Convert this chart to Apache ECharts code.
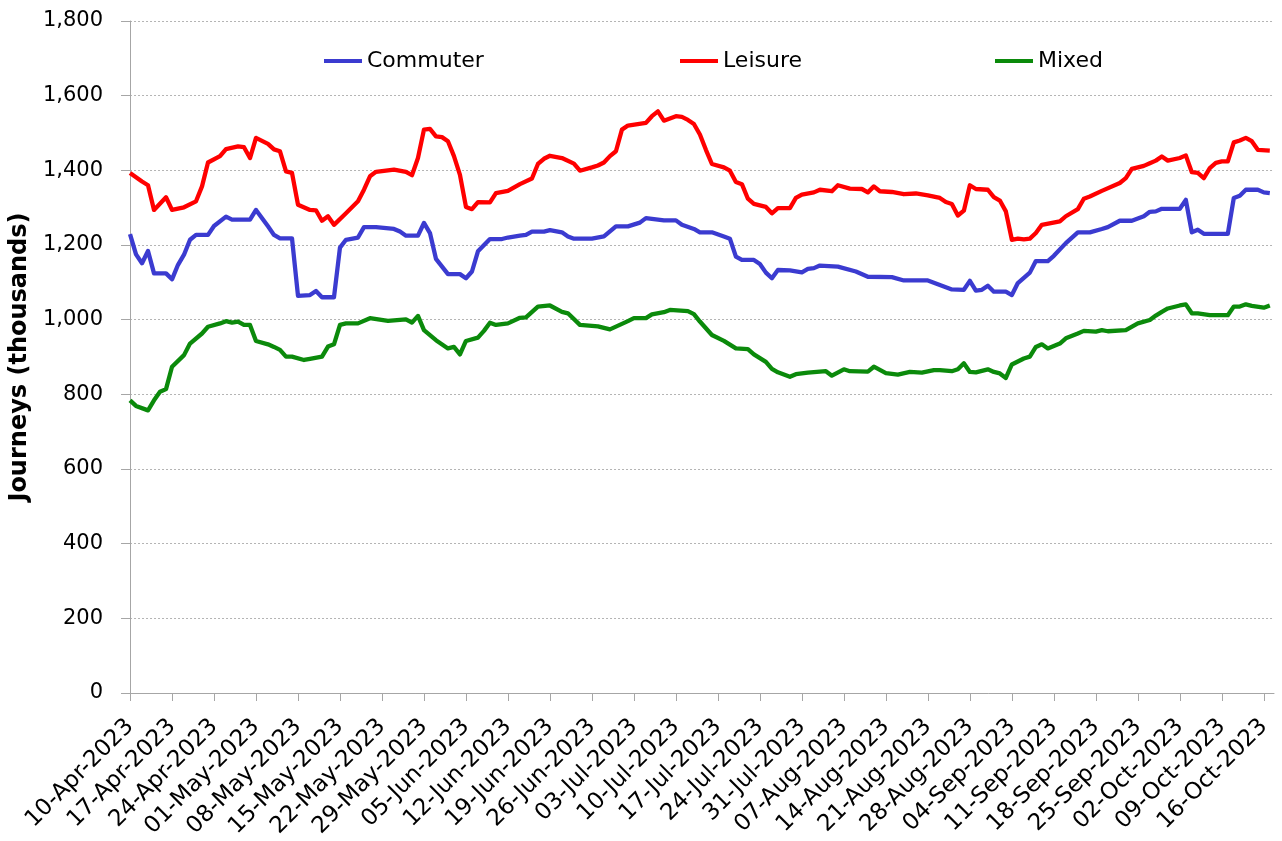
<!DOCTYPE html>
<html>
<head>
<meta charset="utf-8">
<script src="https://cdn.jsdelivr.net/npm/echarts@6/dist/echarts.min.js"></script>
<style>
  html, body { margin: 0; padding: 0; background: #fff; }
  #chart_box { width: 1282px; height: 841px; }
</style>
</head>
<body>
<div id="chart_box"></div>
<script>
// 日期刻度（每 7 天一个）
var tickLabels = ['10-Apr-2023','17-Apr-2023','24-Apr-2023','01-May-2023','08-May-2023','15-May-2023','22-May-2023',
  '29-May-2023','05-Jun-2023','12-Jun-2023','19-Jun-2023','26-Jun-2023','03-Jul-2023','10-Jul-2023','17-Jul-2023',
  '24-Jul-2023','31-Jul-2023','07-Aug-2023','14-Aug-2023','21-Aug-2023','28-Aug-2023','04-Sep-2023','11-Sep-2023',
  '18-Sep-2023','25-Sep-2023','02-Oct-2023','09-Oct-2023','16-Oct-2023'];

// [day since 10-Apr, journeys (thousands)]
var commuter = [[0,1229],[1,1175],[2,1151],[3,1184],[4,1124],[6,1124],[7,1108],[8,1147],[9,1174],[10,1214],
  [11,1227],[13,1227],[14,1251],[16,1276],[17,1268],[20,1268],[21,1294],[23,1250],[24,1227],[25,1218],[27,1218],
  [28,1064],[30,1066],[31,1077],[32,1060],[34,1060],[35,1193],[36,1214],[38,1220],[39,1248],[41,1248],[44,1243],
  [45,1236],[46,1225],[48,1225],[49,1259],[50,1232],[51,1163],[53,1122],[55,1122],[56,1111],[57,1129],[58,1183],
  [60,1216],[62,1216],[63,1220],[65,1225],[66,1227],[67,1236],[69,1236],[70,1240],[72,1234],[73,1223],[74,1217],
  [77,1217],[79,1223],[81,1250],[83,1250],[85,1260],[86,1272],[88,1268],[89,1266],[91,1266],[92,1254],[94,1243],
  [95,1234],[97,1234],[99,1223],[100,1217],[101,1169],[102,1160],[104,1160],[105,1149],[106,1126],[107,1111],
  [108,1133],[110,1132],[112,1127],[113,1136],[114,1138],[115,1145],[118,1142],[121,1129],[123,1115],[127,1114],
  [129,1105],[133,1105],[135,1093],[137,1081],[139,1080],[140,1104],[141,1078],[142,1080],[143,1091],[144,1075],
  [146,1075],[147,1066],[148,1098],[150,1126],[151,1157],[153,1157],[154,1171],[156,1205],[158,1234],[160,1234],
  [162,1243],[163,1248],[165,1265],[167,1265],[169,1277],[170,1289],[171,1290],[172,1297],[175,1297],[176,1321],
  [177,1234],[178,1241],[179,1230],[183,1230],[184,1326],[185,1332],[186,1348],[188,1348],[189,1341],[190,1339]];

var leisure = [[0,1393],[2,1370],[3,1360],[4,1294],[6,1328],[7,1294],[9,1301],[11,1317],[12,1357],[13,1421],
  [15,1438],[16,1457],[18,1464],[19,1462],[20,1433],[21,1487],[23,1471],[24,1456],[25,1451],[26,1397],[27,1393],
  [28,1308],[30,1294],[31,1293],[32,1265],[33,1277],[34,1254],[36,1285],[37,1301],[38,1317],[39,1348],[40,1384],
  [41,1396],[44,1402],[46,1396],[47,1387],[48,1433],[49,1509],[50,1511],[51,1491],[52,1489],[53,1478],[54,1438],
  [55,1388],[56,1302],[57,1296],[58,1315],[60,1314],[61,1339],[63,1345],[65,1363],[67,1378],[68,1417],[69,1431],
  [70,1439],[72,1433],[74,1418],[75,1399],[77,1408],[78,1413],[79,1421],[80,1438],[81,1451],[82,1509],[83,1520],
  [86,1527],[87,1545],[88,1558],[89,1533],[91,1545],[92,1543],[93,1535],[94,1524],[95,1496],[96,1455],[97,1417],
  [99,1408],[100,1399],[101,1369],[102,1363],[103,1324],[104,1310],[106,1302],[107,1285],[108,1299],[110,1299],
  [111,1326],[112,1335],[114,1341],[115,1348],[117,1344],[118,1360],[120,1351],[122,1350],[123,1341],[124,1357],
  [125,1344],[127,1342],[129,1336],[131,1338],[133,1333],[135,1326],[136,1315],[137,1310],[138,1279],[139,1292],
  [140,1360],[141,1350],[143,1348],[144,1328],[145,1319],[146,1290],[147,1214],[148,1217],[149,1215],[150,1217],
  [151,1232],[152,1254],[155,1263],[156,1277],[158,1296],[159,1324],[160,1330],[162,1345],[165,1366],[166,1379],
  [167,1404],[169,1412],[170,1419],[171,1426],[172,1437],[173,1426],[175,1433],[176,1440],[177,1395],[178,1393],
  [179,1379],[180,1406],[181,1420],[182,1424],[183,1424],[184,1475],[185,1480],[186,1487],[187,1478],[188,1455],
  [190,1453]];

var mixed = [[0,784],[1,769],[3,757],[4,784],[5,807],[6,814],[7,874],[9,905],[10,936],[12,963],[13,981],[15,990],
  [16,996],[17,992],[18,995],[19,986],[20,986],[21,943],[23,934],[24,927],[25,919],[26,901],[27,901],[29,892],
  [30,895],[32,901],[33,928],[34,934],[35,986],[36,990],[38,990],[40,1004],[43,997],[46,1001],[47,992],[48,1010],
  [49,972],[51,945],[53,923],[54,927],[55,907],[56,943],[58,952],[59,970],[60,992],[61,986],[63,990],[65,1005],
  [66,1006],[68,1035],[70,1038],[72,1021],[73,1017],[75,986],[78,982],[80,974],[83,996],[84,1004],[86,1004],
  [87,1014],[89,1020],[90,1026],[93,1023],[94,1015],[95,995],[97,959],[99,943],[101,923],[103,921],[104,907],
  [106,887],[107,868],[108,859],[110,847],[111,854],[113,858],[116,862],[117,850],[119,867],[120,862],[123,861],
  [124,874],[126,857],[128,853],[130,860],[132,858],[134,865],[135,865],[137,862],[138,867],[139,883],[140,860],
  [141,859],[143,867],[144,860],[145,856],[146,844],[147,880],[149,896],[150,901],[151,927],[152,934],[153,923],
  [155,936],[156,950],[158,963],[159,970],[161,968],[162,972],[163,969],[166,972],[168,990],[170,999],[171,1011],
  [172,1021],[173,1030],[175,1038],[176,1041],[177,1017],[178,1017],[180,1012],[183,1012],[184,1035],[185,1035],
  [186,1041],[187,1037],[189,1032],[190,1038]];

var tickDays = tickLabels.map(function (t, i) { return i * 7; });

var myChart1 = echarts.init(document.getElementById('chart_box'));
var font = 'DejaVu Sans';

function legendFor(name, left) {
    return {
        data: [name],
        left: left,
        top: 50,
        padding: 0,
        icon: 'rect',
        itemWidth: 38,
        itemHeight: 4,
        textStyle: { fontFamily: font, fontSize: 22, color: '#000' }
    };
}

var option = {
    animation: false,
    backgroundColor: '#fff',
    legend: [legendFor('Commuter', 324), legendFor('Leisure', 680), legendFor('Mixed', 995)],
    grid: { left: 130, right: 8, top: 21, bottom: 148, containLabel: false },
    xAxis: {
        type: 'value',
        min: 0,
        max: 190.7,
        axisLine: { lineStyle: { color: '#a6a6a6', width: 1 } },
        axisTick: { show: true, length: 8, lineStyle: { color: '#a6a6a6' }, customValues: tickDays },
        axisLabel: {
            customValues: tickDays,
            rotate: 45,
            margin: 30,
            color: '#000',
            fontFamily: font,
            fontSize: 23,
            formatter: function (v) { return tickLabels[Math.round(v / 7)]; }
        },
        splitLine: { show: false }
    },
    yAxis: {
        type: 'value',
        min: 0,
        max: 1800,
        interval: 200,
        name: 'Journeys (thousands)',
        nameLocation: 'middle',
        nameGap: 88,
        nameTextStyle: { fontFamily: font, fontSize: 24, fontWeight: 'bold', color: '#000' },
        axisLine: { show: true, lineStyle: { color: '#a6a6a6', width: 1 } },
        axisTick: { show: true, length: 9, lineStyle: { color: '#a6a6a6' } },
        axisLabel: {
            margin: 27,
            color: '#000',
            fontFamily: font,
            fontSize: 21,
            formatter: function (v) { return v.toLocaleString('en-US'); }
        },
        splitLine: { lineStyle: { color: '#b4b4b4', type: [2, 2], width: 1 } }
    },
    series: [
        { name: 'Commuter', type: 'line', data: commuter, showSymbol: false, color: '#3b3bd0',
          lineStyle: { width: 4.3, join: 'round' } },
        { name: 'Leisure', type: 'line', data: leisure, showSymbol: false, color: '#ff0000',
          lineStyle: { width: 4.3, join: 'round' } },
        { name: 'Mixed', type: 'line', data: mixed, showSymbol: false, color: '#0b8a0b',
          lineStyle: { width: 4.3, join: 'round' } }
    ]
};
myChart1.setOption(option);
</script>
</body>
</html>
